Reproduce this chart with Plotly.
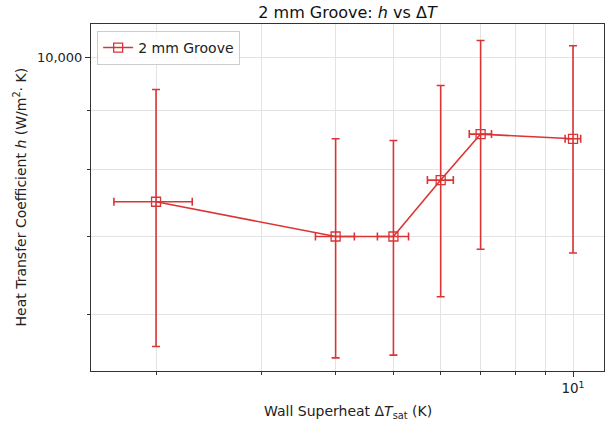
import plotly.graph_objects as go
import math

# Data
dT = [2, 4, 5, 6, 7, 10]
h = [7500, 7000, 7000, 7830, 8580, 8500]
h_err = [1875, 1500, 1470, 1620, 1755, 1725]
dT_err = 0.3

x_minor = [2, 3, 4, 5, 6, 7, 8, 9]
y_minor = [6000, 7000, 8000, 9000]

RED = "#db3434"
FONT = "DejaVu Sans"

fig = go.Figure()
fig.add_trace(go.Scatter(
    x=dT, y=h, mode="lines+markers", name="2 mm Groove",
    line=dict(color=RED, width=1.6),
    marker=dict(symbol="square-open", size=9, color=RED, line=dict(width=1.3, color=RED)),
    error_y=dict(type="data", array=h_err, color=RED, thickness=1.6, width=4),
    error_x=dict(type="constant", value=dT_err, color=RED, thickness=1.6, width=4),
))

W, H = 607, 430
L, R, T, B = 91, 3, 24, 59

fig.update_layout(
    width=W, height=H,
    margin=dict(l=L, r=R, t=T, b=B),
    paper_bgcolor="white", plot_bgcolor="white",
    font=dict(family=FONT, size=13, color="#222"),
    showlegend=True,
    legend=dict(x=0.012, y=0.98, xanchor="left", yanchor="top",
                bgcolor="rgba(255,255,255,0.8)", bordercolor="#cccccc", borderwidth=1,
                font=dict(size=14, family=FONT)),
    title=dict(text="2 mm Groove: <i>h</i> vs Δ<i>T</i>", x=0.5, xref="paper",
               y=1 - 12 / H, yref="container", yanchor="middle", xanchor="center",
               font=dict(size=16, family=FONT, color="#111")),
)

fig.update_xaxes(
    type="log", range=[math.log10(1.556), math.log10(11.27)],
    tickmode="array", tickvals=[10], ticktext=["10<sup>1</sup>"],
    ticks="outside", ticklen=5, tickwidth=1, tickcolor="#333",
    tickfont=dict(size=13.5),
    showgrid=True, gridcolor="#e3e3e3", gridwidth=1,
    showline=True, linecolor="#333", linewidth=1, mirror=True,
    zeroline=False,
    minor=dict(tickmode="array", tickvals=x_minor, ticks="outside", ticklen=3,
               tickcolor="#333", showgrid=True, gridcolor="#e3e3e3", gridwidth=1),
)
fig.update_yaxes(
    type="log", range=[3.729, 4.0285],
    tickmode="array", tickvals=[10000], ticktext=["10,000"],
    ticks="outside", ticklen=5, tickwidth=1, tickcolor="#333",
    tickfont=dict(size=13),
    showgrid=True, gridcolor="#e3e3e3", gridwidth=1,
    showline=True, linecolor="#333", linewidth=1, mirror=True,
    zeroline=False,
    minor=dict(tickmode="array", tickvals=y_minor, ticks="outside", ticklen=3,
               tickcolor="#333", showgrid=True, gridcolor="#e3e3e3", gridwidth=1),
)

fig.add_annotation(text="Wall Superheat Δ<i>T</i><sub>sat</sub> (K)",
                   xref="paper", yref="paper", x=0.5, y=-(412 - 371) / (430 - 24 - 59),
                   xanchor="center", yanchor="middle", showarrow=False,
                   font=dict(size=14, family=FONT, color="#222"))
fig.add_annotation(text="Heat Transfer Coefficient <i>h</i> (W/m<sup>2</sup>· K)",
                   xref="paper", yref="paper", x=-(91 - 20) / (607 - 91 - 3), y=0.5,
                   xanchor="center", yanchor="middle", showarrow=False, textangle=-90,
                   font=dict(size=14, family=FONT, color="#222"))

fig.write_html("out.html")
